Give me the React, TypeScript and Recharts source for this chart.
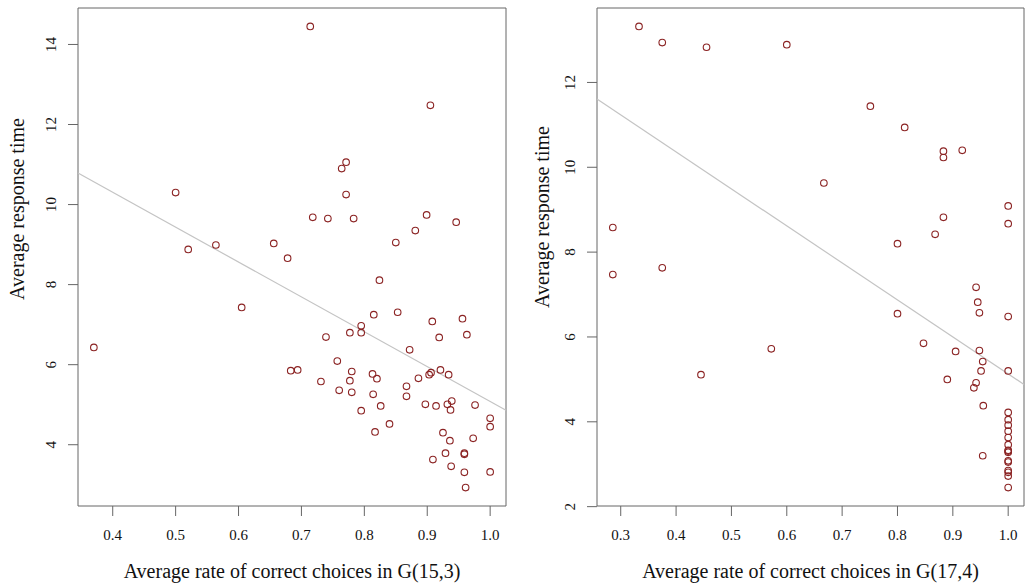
import React from "react";
import { ScatterChart, Scatter, XAxis, YAxis, ReferenceArea, ReferenceLine, Label } from "recharts";

// ---- Left panel: G(15,3) ----
const leftX = [
  0.714, 0.905, 0.771, 0.764, 0.5, 0.771, 0.718, 0.742, 0.783, 0.899, 0.946, 0.881, 0.85, 0.656, 0.564, 0.52,
  0.678, 0.824, 0.605, 0.37, 0.815, 0.853, 0.908, 0.956, 0.795, 0.777, 0.795, 0.739, 0.919, 0.963, 0.872, 0.757,
  0.683, 0.694, 0.78, 0.813, 0.82, 0.921, 0.906, 0.903, 0.934, 0.886, 0.731, 0.777, 0.867, 0.76, 0.78, 0.814,
  0.867, 0.939, 0.932, 0.897, 0.914, 0.826, 0.976, 0.937, 0.795, 1.0, 1.0, 0.84, 0.817, 0.925, 0.936, 0.973,
  0.929, 0.959, 0.959, 0.909, 0.938, 0.959, 1.0, 0.961,
];
const leftY = [
  14.45, 12.48, 11.06, 10.9, 10.3, 10.25, 9.68, 9.65, 9.65, 9.74, 9.56, 9.35, 9.05, 9.03, 8.99, 8.88,
  8.66, 8.11, 7.43, 6.43, 7.25, 7.31, 7.08, 7.15, 6.97, 6.8, 6.8, 6.69, 6.68, 6.75, 6.37, 6.09,
  5.85, 5.87, 5.83, 5.77, 5.65, 5.87, 5.8, 5.75, 5.75, 5.66, 5.58, 5.6, 5.46, 5.36, 5.31, 5.26,
  5.21, 5.09, 5.01, 5.01, 4.97, 4.97, 4.99, 4.87, 4.85, 4.66, 4.45, 4.52, 4.32, 4.3, 4.1, 4.16,
  3.79, 3.79, 3.76, 3.63, 3.46, 3.31, 3.32, 2.93,
];
const leftXTicks = [0.4, 0.5, 0.6, 0.7, 0.8, 0.9, 1.0];
const leftYTicks = [4, 6, 8, 10, 12, 14];
const leftFit = [13.79, -8.71]; // intercept, slope
const leftTitle = "Average rate of correct choices in G(15,3)";

// ---- Right panel: G(17,4) ----
const rightX = [
  0.333, 0.375, 0.455, 0.6, 0.751, 0.813, 0.883, 0.883, 0.917, 0.667, 1.0, 0.883, 1.0, 0.2857, 0.868, 0.8,
  0.2857, 0.375, 0.942, 0.945, 0.948, 0.8, 1.0, 0.572, 0.445, 0.847, 0.905, 0.948, 0.954, 0.951, 1.0, 0.89,
  0.942, 0.938, 0.955, 0.954,
  1.0, 1.0, 1.0, 1.0, 1.0, 1.0, 1.0, 1.0, 1.0, 1.0, 1.0, 1.0, 1.0, 1.0, 1.0,
];
const rightY = [
  13.32, 12.94, 12.83, 12.89, 11.44, 10.94, 10.38, 10.23, 10.4, 9.63, 9.09, 8.82, 8.67, 8.58, 8.42, 8.2,
  7.47, 7.63, 7.17, 6.82, 6.57, 6.55, 6.48, 5.72, 5.11, 5.85, 5.66, 5.68, 5.42, 5.2, 5.2, 5.0,
  4.92, 4.8, 4.38, 3.2,
  4.22, 4.05, 3.92, 3.78, 3.63, 3.46, 3.33, 3.31, 3.28, 3.08, 3.05, 2.85, 2.81, 2.72, 2.45,
];
const rightXTicks = [0.3, 0.4, 0.5, 0.6, 0.7, 0.8, 0.9, 1.0];
const rightYTicks = [2, 4, 6, 8, 10, 12];
const rightFit = [13.85, -8.72];
const rightTitle = "Average rate of correct choices in G(17,4)";

const yTitle = "Average response time";

const FONT = "'Liberation Serif', 'DejaVu Serif', serif";
const POINT = "#8b2323";
const BOX = "#666";

// R-style axis range: data range extended by 4% on each side
const rDomain = (v: number[]): [number, number] => {
  const lo = Math.min(...v);
  const hi = Math.max(...v);
  const pad = (hi - lo) * 0.04;
  return [lo - pad, hi + pad];
};

const Ring = (props: any) => {
  const { cx, cy } = props;
  if (cx == null || cy == null) return <g />;
  return <circle cx={cx} cy={cy} r={3.3} fill="none" stroke={POINT} strokeWidth={1.1} />;
};

const YTick = (props: any) => {
  const { x, y, payload } = props;
  return (
    <text
      transform={`translate(${x - 10},${y}) rotate(-90)`}
      textAnchor="middle"
      fontSize={15}
      fontFamily={FONT}
      fill="#111"
    >
      {payload.value}
    </text>
  );
};

type PanelProps = {
  xs: number[];
  ys: number[];
  xTicks: number[];
  yTicks: number[];
  fit: number[];
  xTitle: string;
  yAxisWidth: number;
  rightMargin: number;
  yTitleX: number; // baseline offset left of plot edge
  yTitleShift: number; // vertical shift from plot center
};

const Panel = ({ xs, ys, xTicks, yTicks, fit, xTitle, yAxisWidth, rightMargin, yTitleX, yTitleShift }: PanelProps) => {
  const data = xs.map((x, i) => ({ x, y: ys[i] }));
  const xd = rDomain(xs);
  const yd = rDomain(ys);
  const seg = [
    { x: xd[0], y: fit[0] + fit[1] * xd[0] },
    { x: xd[1], y: fit[0] + fit[1] * xd[1] },
  ];
  const YTitle = (p: any) => {
    const vb = p.viewBox;
    const px = vb.x + vb.width - yTitleX;
    const py = vb.y + vb.height / 2 + yTitleShift;
    return (
      <text transform={`translate(${px},${py}) rotate(-90)`} textAnchor="middle" fontSize={20} fontFamily={FONT} fill="#111">
        {yTitle}
      </text>
    );
  };
  const XTitle = (p: any) => {
    const vb = p.viewBox;
    return (
      <text x={vb.x + vb.width / 2} y={vb.y + 72} textAnchor="middle" fontSize={20} fontFamily={FONT} fill="#111">
        {xTitle}
      </text>
    );
  };
  return (
    <ScatterChart width={514} height={587} margin={{ top: 8, right: rightMargin, bottom: 0, left: 0 }}>
      <XAxis
        type="number"
        dataKey="x"
        domain={xd}
        allowDataOverflow
        ticks={xTicks}
        tickFormatter={(v: number) => v.toFixed(1)}
        tickSize={10}
        tickMargin={13}
        axisLine={false}
        tickLine={{ stroke: BOX }}
        tick={{ fontSize: 15, fill: "#111", fontFamily: FONT }}
        height={81}
        interval={0}
      >
        <Label content={XTitle} />
      </XAxis>
      <YAxis
        type="number"
        dataKey="y"
        domain={yd}
        allowDataOverflow
        ticks={yTicks}
        tickSize={10}
        axisLine={false}
        tickLine={{ stroke: BOX }}
        tick={<YTick />}
        width={yAxisWidth}
        interval={0}
      >
        <Label content={YTitle} />
      </YAxis>
      <ReferenceArea x1={xd[0]} x2={xd[1]} y1={yd[0]} y2={yd[1]} fill="none" fillOpacity={0} stroke={BOX} strokeWidth={1} />
      <ReferenceLine segment={seg} stroke="#c4c4c4" strokeWidth={1.2} />
      <Scatter data={data} shape={<Ring />} isAnimationActive={false} />
    </ScatterChart>
  );
};

export default function App() {
  return (
    <div style={{ position: "absolute", left: 0, top: 0, width: 1028, height: 587, background: "#fff" }}>
      <div style={{ position: "absolute", left: 0, top: 0 }}>
        <Panel
          xs={leftX}
          ys={leftY}
          xTicks={leftXTicks}
          yTicks={leftYTicks}
          fit={leftFit}
          xTitle={leftTitle}
          yAxisWidth={78}
          rightMargin={8}
          yTitleX={54}
          yTitleShift={-48}
        />
      </div>
      <div style={{ position: "absolute", left: 514, top: 0 }}>
        <Panel
          xs={rightX}
          ys={rightY}
          xTicks={rightXTicks}
          yTicks={rightYTicks}
          fit={rightFit}
          xTitle={rightTitle}
          yAxisWidth={83}
          rightMargin={4}
          yTitleX={48}
          yTitleShift={-40}
        />
      </div>
    </div>
  );
}
